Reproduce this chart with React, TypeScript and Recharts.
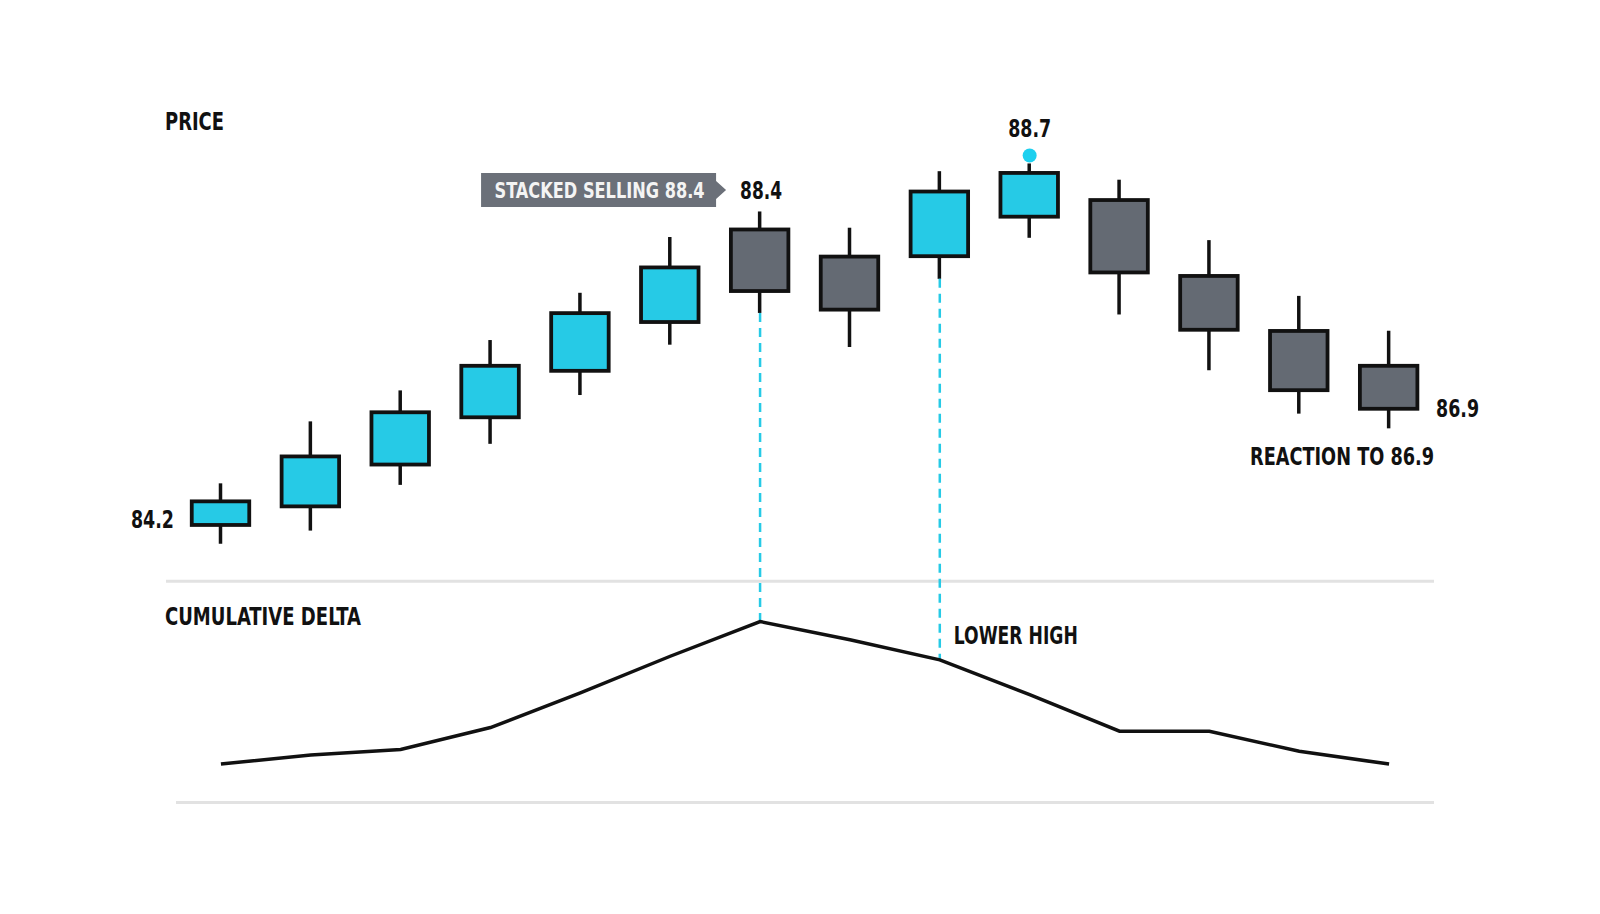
import React from 'react'
import {
  ComposedChart,
  Bar,
  Line,
  XAxis,
  YAxis,
  ReferenceLine,
  ReferenceDot,
} from 'recharts'

// candles
const bars = ['C1', 'C2', 'C3', 'C4', 'C5', 'C6', 'C7', 'C8', 'C9', 'C10', 'C11', 'C12', 'C13', 'C14']
const opens = [84.0, 84.24, 84.78, 85.39, 85.99, 86.62, 87.86, 87.51, 87.47, 87.98, 88.24, 87.26, 86.55, 86.1]
const highs = [84.56, 85.36, 85.76, 86.41, 87.02, 87.74, 88.07, 87.86, 88.59, 88.69, 88.48, 87.7, 86.98, 86.53]
const lows = [83.78, 83.95, 84.54, 85.07, 85.7, 86.35, 86.76, 86.32, 87.2, 87.73, 86.74, 86.02, 85.46, 85.27]
const closes = [84.35, 84.93, 85.5, 86.1, 86.78, 87.37, 87.02, 86.78, 88.35, 88.59, 87.26, 86.52, 85.74, 85.5]
const cumDelta = [21, 26, 29, 41, 60, 80, 99, 89, 78, 59, 39, 39, 28, 21]

const PRICE_DOMAIN: [number, number] = [79, 90.8]
const DELTA_DOMAIN: [number, number] = [-61, 439]
const SEPARATOR = 121
const BASELINE = 0

const CYAN = '#26cae6'
const GREY = '#646a73'
const INK = '#111111'
const FONT = "'Liberation Sans Narrow', 'DejaVu Sans Condensed', 'Roboto', sans-serif"

const W = 1600
const H = 914

const data = bars.map((t, i) => ({
  t,
  open: opens[i],
  high: highs[i],
  low: lows[i],
  close: closes[i],
  range: [lows[i], highs[i]],
  delta: cumDelta[i],
}))

// price value that sits on the same pixel row as a delta value (both axes share the plot height)
function deltaToPrice(d: number) {
  const frac = (DELTA_DOMAIN[1] - d) / (DELTA_DOMAIN[1] - DELTA_DOMAIN[0])
  return PRICE_DOMAIN[1] - frac * (PRICE_DOMAIN[1] - PRICE_DOMAIN[0])
}

function Candle(props: any) {
  const { x, y, width, height, payload } = props
  if (payload == null) return null
  const top = Math.min(y, y + height)
  const h = Math.abs(height)
  const span = payload.high - payload.low
  const toPx = (v: number) => top + ((payload.high - v) / span) * h
  const cx = x + width / 2
  const up = payload.close >= payload.open
  const bodyTop = toPx(Math.max(payload.open, payload.close))
  const bodyBottom = toPx(Math.min(payload.open, payload.close))
  const bw = width - 3.5
  return (
    <g>
      <line x1={cx} x2={cx} y1={top} y2={top + h} stroke={INK} strokeWidth={3.5} />
      <rect
        x={cx - bw / 2}
        y={bodyTop + 1.75}
        width={bw}
        height={bodyBottom - bodyTop - 3.5}
        fill={up ? CYAN : GREY}
        stroke={INK}
        strokeWidth={3.8}
      />
    </g>
  )
}

function Word(props: any) {
  const { x, y, text, len, anchor = 'start', size = 25, fill = INK } = props
  return (
    <text
      x={x}
      y={y}
      textAnchor={anchor}
      dominantBaseline="central"
      fill={fill}
      fontFamily={FONT}
      fontWeight={700}
      fontSize={size}
      textLength={len}
      lengthAdjust="spacingAndGlyphs"
    >
      {text}
    </text>
  )
}

// text pinned to a reference dot, shifted by dx/dy
function Note(props: any) {
  const { viewBox, dx = 0, dy = 0, text, len, anchor } = props
  const cx = viewBox.x + viewBox.width / 2
  const cy = viewBox.y + viewBox.height / 2
  return <Word x={cx + dx} y={cy + dy} text={text} len={len} anchor={anchor} />
}

function Callout(props: any) {
  const { viewBox, text } = props
  const cx = viewBox.x + viewBox.width / 2
  const cy = viewBox.y + viewBox.height / 2
  const right = cx - 44
  const left = cx - 279
  const top = cy - 13
  const bottom = cy + 21
  const mid = (top + bottom) / 2
  return (
    <g>
      <path
        d={`M${left},${top} L${right},${top} L${right},${mid - 9} L${right + 10},${mid} L${right},${mid + 9} L${right},${bottom} L${left},${bottom} Z`}
        fill="#6b7079"
      />
      <Word
        x={(left + right) / 2 + 1}
        y={mid + 1}
        anchor="middle"
        text={text}
        len={210}
        size={22}
        fill="#f4f4f4"
      />
    </g>
  )
}

function Rule(props: any) {
  const { x1, x2, y1, y2, extendLeft = 0 } = props
  return <line x1={x1 - extendLeft} x2={x2} y1={y1} y2={y2} stroke="#e2e2e2" strokeWidth={3} />
}

export default function App() {
  return (
    <div style={{ position: 'absolute', left: 0, top: 0, width: W, height: H, background: '#fff' }}>
      <ComposedChart
        width={W}
        height={H}
        data={data}
        margin={{ top: 0, right: 166, bottom: 0, left: 176 }}
      >
        <XAxis dataKey="t" type="category" hide />
        <YAxis yAxisId="price" domain={PRICE_DOMAIN} allowDataOverflow hide />
        <YAxis yAxisId="delta" domain={DELTA_DOMAIN} allowDataOverflow hide />

        <ReferenceLine yAxisId="delta" y={SEPARATOR} shape={(p: any) => <Rule {...p} extendLeft={10} />} />
        <ReferenceLine yAxisId="delta" y={BASELINE} shape={(p: any) => <Rule {...p} />} />

        <ReferenceLine
          yAxisId="price"
          segment={[
            { x: bars[6], y: lows[6] },
            { x: bars[6], y: deltaToPrice(cumDelta[6]) },
          ]}
          stroke={CYAN}
          strokeWidth={2.5}
          strokeDasharray="9 6"
        />
        <ReferenceLine
          yAxisId="price"
          segment={[
            { x: bars[8], y: lows[8] },
            { x: bars[8], y: deltaToPrice(cumDelta[8]) },
          ]}
          stroke={CYAN}
          strokeWidth={2.5}
          strokeDasharray="9 6"
        />

        <Bar
          yAxisId="price"
          dataKey="range"
          barSize={61}
          shape={(p: any) => <Candle {...p} />}
          isAnimationActive={false}
        />
        <Line
          yAxisId="delta"
          dataKey="delta"
          type="linear"
          stroke={INK}
          strokeWidth={3.5}
          dot={false}
          activeDot={false}
          isAnimationActive={false}
        />

        <ReferenceDot
          yAxisId="price"
          x={bars[0]}
          y={84.2}
          r={1}
          fill="none"
          stroke="none"
          label={(p: any) => <Note viewBox={p.viewBox} text="84.2" len={43} dx={-47} dy={8} anchor="end" />}
        />
        <ReferenceDot
          yAxisId="price"
          x={bars[6]}
          y={88.4}
          r={1}
          fill="none"
          stroke="none"
          label={(p: any) => <Callout viewBox={p.viewBox} text="STACKED SELLING 88.4" />}
        />
        <ReferenceDot
          yAxisId="price"
          x={bars[6]}
          y={highs[6]}
          r={1}
          fill="none"
          stroke="none"
          label={(p: any) => <Note viewBox={p.viewBox} text="88.4" len={42} dx={1} dy={-21} anchor="middle" />}
        />
        <ReferenceDot
          yAxisId="price"
          x={bars[9]}
          y={highs[9]}
          r={7}
          shape={(p: any) => <circle cx={p.cx} cy={p.cy - 8} r={7} fill="#1dd0ef" />}
          label={(p: any) => <Note viewBox={p.viewBox} text="88.7" len={43} dy={-35} anchor="middle" />}
        />
        <ReferenceDot
          yAxisId="price"
          x={bars[13]}
          y={closes[13]}
          r={1}
          fill="none"
          stroke="none"
          label={(p: any) => <Note viewBox={p.viewBox} text="86.9" len={43} dx={47} dy={-2} />}
        />
        <ReferenceDot
          yAxisId="price"
          x={bars[13]}
          y={lows[13]}
          r={1}
          fill="none"
          stroke="none"
          label={(p: any) => (
            <Note viewBox={p.viewBox} text="REACTION TO 86.9" len={184} dx={45} dy={28} anchor="end" />
          )}
        />
        <ReferenceDot
          yAxisId="delta"
          x={bars[8]}
          y={cumDelta[8]}
          r={1}
          fill="none"
          stroke="none"
          label={(p: any) => <Note viewBox={p.viewBox} text="LOWER HIGH" len={124} dx={14} dy={-24} />}
        />
      </ComposedChart>
      <svg
        width={W}
        height={H}
        style={{ position: 'absolute', left: 0, top: 0, pointerEvents: 'none' }}
      >
        <Word x={165} y={121} text="PRICE" len={59} />
        <Word x={165} y={616} text="CUMULATIVE DELTA" len={196} />
      </svg>
    </div>
  )
}
